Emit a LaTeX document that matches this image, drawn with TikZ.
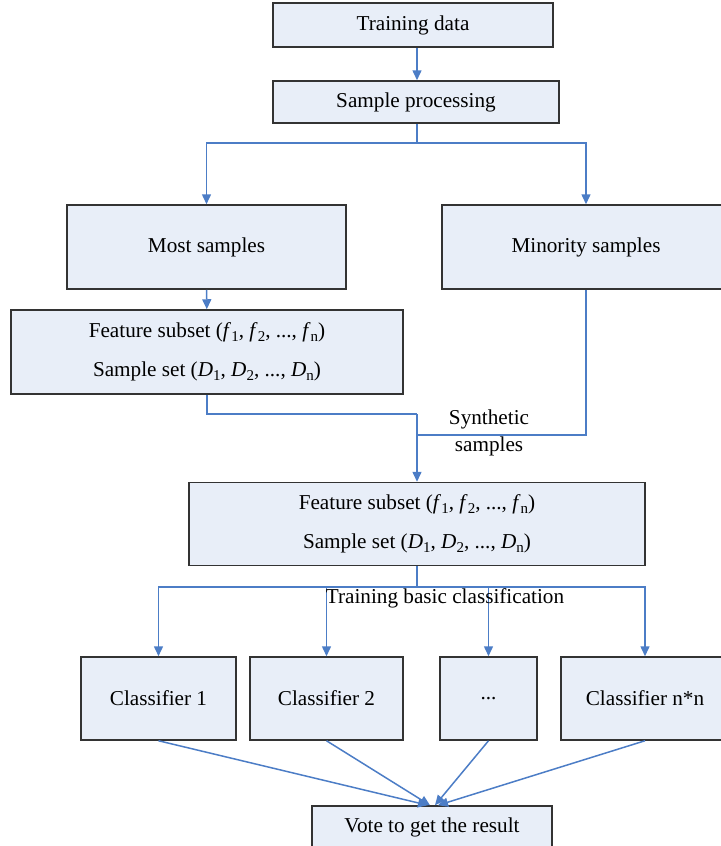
\documentclass[tikz,border=0pt]{standalone}
\usepackage{fontspec}
\setmainfont{Liberation Serif}
\usetikzlibrary{arrows.meta}
\definecolor{boxfill}{RGB}{232,238,248}
\definecolor{linkblue}{RGB}{76,125,198}
\newcommand\lowidx[1]{\raisebox{-0.35ex}{\fontsize{7.5}{8}\selectfont#1}}

\begin{document}
\begin{tikzpicture}[x=0.5pt,y=-0.5pt,
  box/.style={draw=black!80,fill=boxfill,line width=0.75pt,inner sep=0pt,align=center},
  link/.style={draw=linkblue,line width=0.75pt},
  arr/.style={link,-{Triangle[length=5pt,width=4.5pt]}},
  font=\fontsize{10.6}{19.5}\selectfont]
\useasboundingbox (0,0) rectangle (720,846);

% top of the chain
\node[box,minimum width=140pt,minimum height=22pt] (train) at (413,25) {Training data};
\node[box,minimum width=143pt,minimum height=21pt] (proc) at (416,102) {Sample processing};
\node[box,minimum width=139.5pt,minimum height=42pt] (most) at (206.5,247) {Most samples};
\node[box,minimum width=144pt,minimum height=42pt] (minor) at (586,247) {Minority samples};
\node[box,minimum width=196pt,minimum height=42pt] (feat1) at (207,352)
  {Feature subset (\textit{f}\lowidx{1}, \textit{f}\lowidx{2}, ..., \textit{f}\lowidx{n})\\
   Sample set (\textit{D}\lowidx{1}, \textit{D}\lowidx{2}, ..., \textit{D}\lowidx{n})};
\node[box,minimum width=228pt,minimum height=41.5pt] (feat2) at (417,524)
  {Feature subset (\textit{f}\lowidx{1}, \textit{f}\lowidx{2}, ..., \textit{f}\lowidx{n})\\
   Sample set (\textit{D}\lowidx{1}, \textit{D}\lowidx{2}, ..., \textit{D}\lowidx{n})};

\coordinate (split) at (417,143);
\coordinate (join) at (417,414);
\coordinate (merge) at (417,435);
\coordinate (fan) at (417,587);

\draw[arr] (split |- train.south) -- (split |- proc.north);
\draw[link] (split |- proc.south) -- (split);
\draw[arr] (split) -| (most.north);
\draw[arr] (split) -| (minor.north);
\draw[arr] (most) -- (feat1);
\draw[link] (feat1.south) |- (join);
\draw[link] (minor.south) |- (merge);
\draw[arr] (join) -- (feat2.north);
\node[align=center,font=\fontsize{10.6}{13.5}\selectfont] (synth) at (489,433) {Synthetic\\samples};

% classifiers
\node[box,minimum width=77.5pt,minimum height=41.5pt] (c1) at (158.5,698.5) {Classifier 1};
\node[box,minimum width=76.5pt,minimum height=41.5pt] (c2) at (326.5,698.5) {Classifier 2};
\node[box,minimum width=48.5pt,minimum height=41.5pt] (c3) at (488.5,698.5) {...};
\node[box,minimum width=84pt,minimum height=41.5pt] (c4) at (645,698.5) {Classifier n*n};
\node[box,minimum width=120pt,minimum height=21pt] (vote) at (432,827) {Vote to get the result};

\draw[link] (feat2.south) -- (fan);
\foreach \c in {c1,c2,c3,c4}
  \draw[arr] (fan) -| (\c.north);
\node (train-lbl) at (445,598) {Training basic classification};

\draw[arr] (c1.south) -- ([xshift=-2pt]vote.north);
\draw[arr] (c2.south) -- ([xshift=-1pt]vote.north);
\draw[arr] (c3.south) -- ([xshift=1.5pt]vote.north);
\draw[arr] (c4.south) -- ([xshift=3pt]vote.north);
\end{tikzpicture}
\end{document}
